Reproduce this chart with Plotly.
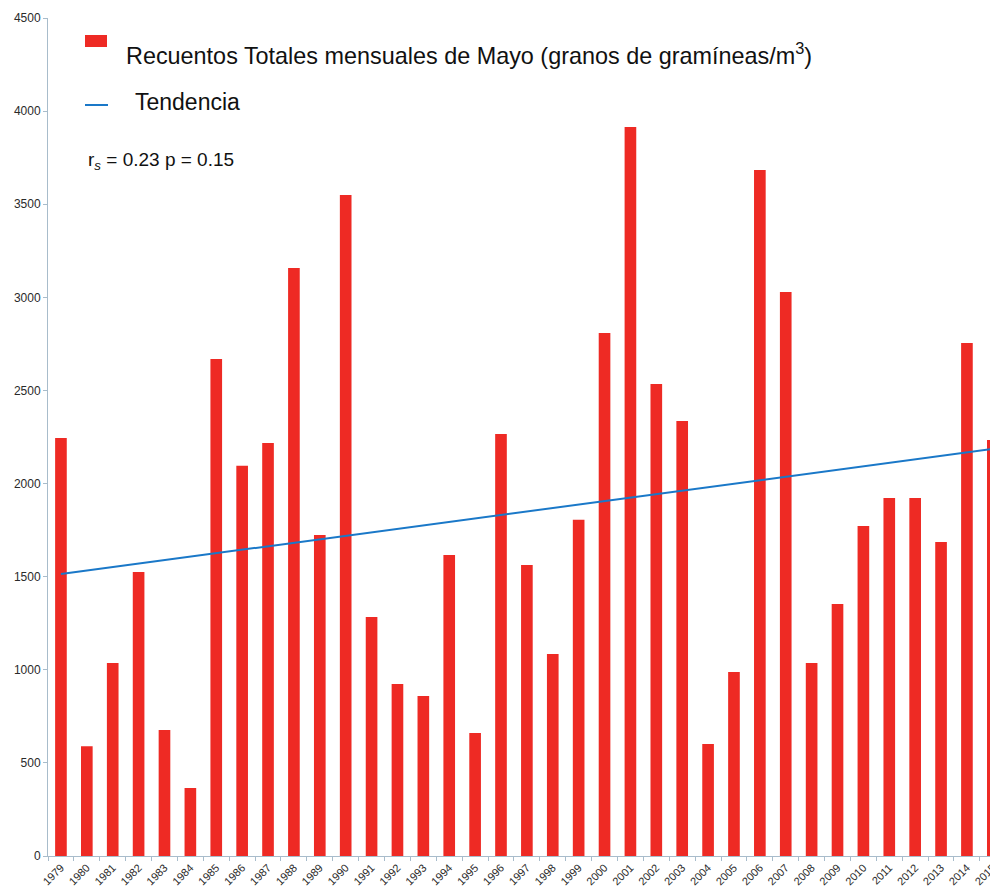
import plotly.graph_objects as go

years = [str(y) for y in range(1979, 2016)]
counts = [2245, 590, 1037, 1525, 677, 365, 2669, 2095, 2218, 3158, 1724, 3550,
          1284, 924, 859, 1617, 661, 2266, 1563, 1085, 1805, 2809, 3915, 2535,
          2336, 601, 988, 3684, 3029, 1037, 1353, 1772, 1923, 1923, 1686, 2755, 2234]
trend_years = ["1979", "2015"]
trend_values = [1514, 2186]
y_ticks = [0, 500, 1000, 1500, 2000, 2500, 3000, 3500, 4000, 4500]

bar_color = "#ee2a24"
line_color = "#1a78c8"
axis_color = "#a8bccb"
font = "Liberation Sans, Arial, sans-serif"

fig = go.Figure()
fig.add_trace(go.Bar(x=years, y=counts, marker=dict(color=bar_color, line=dict(width=0)),
                     name="Recuentos Totales mensuales de Mayo (granos de gramíneas/m<sup>3</sup>)",
                     showlegend=False))
fig.add_trace(go.Scatter(x=trend_years, y=trend_values, mode="lines",
                         line=dict(color=line_color, width=2), name="Tendencia",
                         showlegend=False))

# page is offset by the 8px body margin; plot area spans page x 48..998+, y 18..856
PW, PH = 950, 838
def px(x):
    return (x - 48) / PW
def py(y):
    return (856 - y) / PH

# manual legend
fig.add_shape(type="rect", xref="paper", yref="paper",
              x0=px(85), x1=px(107), y0=py(47), y1=py(35),
              fillcolor=bar_color, line=dict(width=0))
fig.add_shape(type="line", xref="paper", yref="paper",
              x0=px(85), x1=px(108), y0=py(105), y1=py(105),
              line=dict(color=line_color, width=2))
fig.add_annotation(xref="paper", yref="paper", x=px(124), y=py(65),
                   xanchor="left", yanchor="bottom", showarrow=False, yshift=-6,
                   text="Recuentos Totales mensuales de Mayo (granos de gramíneas/m<sup>3</sup>)",
                   font=dict(family=font, size=23.4, color="#111"))
fig.add_annotation(xref="paper", yref="paper", x=px(133), y=py(102),
                   xanchor="left", yanchor="middle", showarrow=False,
                   text="Tendencia", font=dict(family=font, size=23, color="#111"))
fig.add_annotation(xref="paper", yref="paper", x=px(86), y=py(161),
                   xanchor="left", yanchor="middle", showarrow=False,
                   text="r<sub><i>s</i></sub> = 0.23 p = 0.15",
                   font=dict(family=font, size=19, color="#111"))

fig.update_layout(
    width=990, height=882,
    margin=dict(l=40, r=0, t=10, b=34, autoexpand=False),
    plot_bgcolor="white", paper_bgcolor="white",
    bargap=0.55,
    font=dict(family=font, color="#333"),
    xaxis=dict(type="category", range=[-0.5, 36.2], showline=True, linecolor=axis_color,
               linewidth=1, ticks="outside", tickson="boundaries", ticklen=4,
               tickcolor=axis_color, tickangle=-45, tickfont=dict(size=11, color="#2a2a2a"),
               showgrid=False, zeroline=False, automargin=False),
    yaxis=dict(range=[0, 4500], tickvals=y_ticks, showline=True, linecolor=axis_color,
               linewidth=1, ticks="outside", ticklen=4, tickcolor=axis_color,
               tickfont=dict(size=12, color="#2a2a2a"), showgrid=False, zeroline=False,
               automargin=False),
)

fig.write_html("out.html")
